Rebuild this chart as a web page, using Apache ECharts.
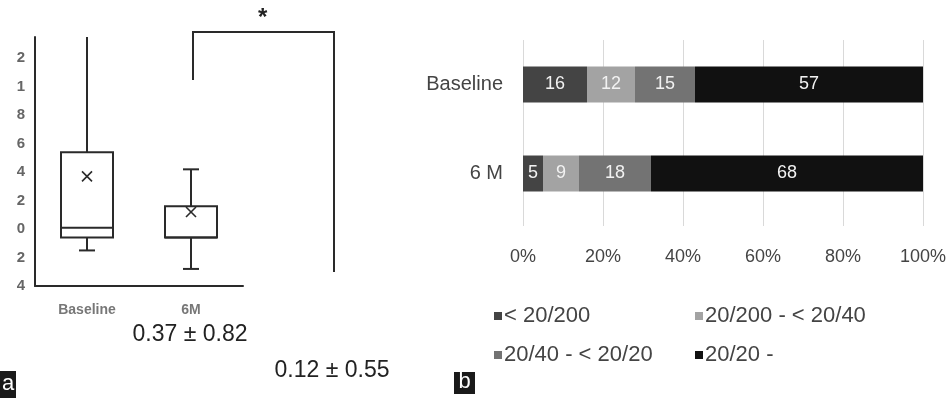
<!DOCTYPE html>
<html>
<head>
<meta charset="utf-8">
<script src="https://cdn.jsdelivr.net/npm/echarts@6/dist/echarts.min.js"></script>
<style>
  html, body { margin: 0; padding: 0; background: #fff; }
  #chart { width: 950px; height: 398px; }
</style>
</head>
<body>
<div id="chart"></div>
<script>
// ---- Panel a: box plot ----
const boxCategories = ['Baseline', '6M'];
const boxMin = [-0.15, -0.28];
const boxQ1 = [-0.06, -0.06];
const boxMedian = [0.01, -0.06];
const boxQ3 = [0.54, 0.16];
const boxMax = [1.5, 0.42];
const boxMean = [0.37, 0.12];
const boxSD = [0.82, 0.55];
const boxTickValues = [-0.4, -0.2, 0, 0.2, 0.4, 0.6, 0.8, 1, 1.2];
const boxTickLabels = ['4', '2', '0', '2', '4', '6', '8', '1', '2'];

// ---- Panel b: stacked percentage bars ----
const barCategories = ['Baseline', '6 M'];
const seriesNames = ['< 20/200', '20/200 - < 20/40', '20/40 - < 20/20', '20/20 -'];
const under200 = [16, 5];
const from200to40 = [12, 9];
const from40to20 = [15, 18];
const over20 = [57, 68];
const seriesColors = ['#444444', '#a3a3a3', '#737373', '#111111'];

const FONT = "'Liberation Sans', Arial, sans-serif";

const boxData = boxCategories.map((c, i) =>
  [i, boxMin[i], boxQ1[i], boxMedian[i], boxQ3[i], boxMax[i], boxMean[i]]);

function renderBox(params, api) {
  const i = api.value(0);
  const band = api.size([1, 0])[0];
  const hw = band * 0.25;
  const cap = 8;
  const m = 5;
  const pMin = api.coord([i, api.value(1)]);
  const pQ1 = api.coord([i, api.value(2)]);
  const pMed = api.coord([i, api.value(3)]);
  const pQ3 = api.coord([i, api.value(4)]);
  const pMax = api.coord([i, api.value(5)]);
  const pMean = api.coord([i, api.value(6)]);
  const x = pQ1[0];
  const st = { stroke: '#2a2a2a', lineWidth: 2, fill: null };
  const line = (x1, y1, x2, y2, s) => ({ type: 'line', shape: { x1, y1, x2, y2 }, style: s || st });
  return {
    type: 'group',
    children: [
      { type: 'rect', shape: { x: x - hw, y: pQ3[1], width: hw * 2, height: pQ1[1] - pQ3[1] }, style: st },
      line(x - hw, pMed[1], x + hw, pMed[1]),
      line(x, pQ3[1], x, pMax[1]),
      line(x, pQ1[1], x, pMin[1]),
      line(x - cap, pMax[1], x + cap, pMax[1]),
      line(x - cap, pMin[1], x + cap, pMin[1]),
      line(x - m, pMean[1] - m, x + m, pMean[1] + m, { stroke: '#2a2a2a', lineWidth: 1.6 }),
      line(x - m, pMean[1] + m, x + m, pMean[1] - m, { stroke: '#2a2a2a', lineWidth: 1.6 })
    ]
  };
}

const barSeriesData = [under200, from200to40, from40to20, over20];

const chart = echarts.init(document.getElementById('chart'), null, { renderer: 'canvas' });

chart.setOption({
  animation: false,
  backgroundColor: '#ffffff',
  grid: [
    { left: 35, top: 37, width: 208, height: 249 },
    { left: 523, top: 40, width: 400, height: 178 },
    { left: 523, top: 40, width: 400, height: 186 }
  ],
  xAxis: [
    {
      gridIndex: 0, type: 'category', data: boxCategories,
      axisLine: { onZero: false, lineStyle: { color: '#2a2a2a', width: 2 } },
      axisTick: { show: false },
      axisLabel: { color: '#777', fontWeight: 'bold', fontSize: 14, fontFamily: FONT, margin: 17 }
    },
    { gridIndex: 1, type: 'value', min: 0, max: 100, show: false },
    {
      gridIndex: 2, type: 'value', min: 0, max: 100, interval: 20,
      axisLine: { show: false }, axisTick: { show: false },
      splitLine: { lineStyle: { color: '#d9d9d9', width: 1 } },
      axisLabel: { formatter: '{value}%', color: '#444', fontSize: 18, fontFamily: FONT, margin: 22 }
    }
  ],
  yAxis: [
    {
      gridIndex: 0, type: 'value', min: -0.4, max: 1.35, interval: 0.2,
      axisLine: { show: true, lineStyle: { color: '#2a2a2a', width: 2 } },
      axisTick: { show: false }, splitLine: { show: false },
      axisLabel: {
        showMaxLabel: false, color: '#666', fontWeight: 'bold', fontSize: 15, fontFamily: FONT, margin: 10,
        formatter: v => {
          const k = boxTickValues.findIndex(t => Math.abs(t - v) < 1e-6);
          return k < 0 ? '' : boxTickLabels[k];
        }
      }
    },
    {
      gridIndex: 1, type: 'category', data: barCategories, inverse: true,
      axisLine: { show: false }, axisTick: { show: false },
      axisLabel: { color: '#444', fontSize: 20, fontFamily: FONT, margin: 20 }
    },
    { gridIndex: 2, type: 'value', show: false }
  ],
  legend: [
    {
      data: [seriesNames[0], seriesNames[2]], orient: 'vertical', left: 489, top: 300,
      icon: 'rect', itemWidth: 8, itemHeight: 8, itemGap: 17,
      textStyle: { color: '#444', fontSize: 22, fontFamily: FONT, padding: [0, 0, 0, -3] }
    },
    {
      data: [seriesNames[1], seriesNames[3]], orient: 'vertical', left: 690, top: 300,
      icon: 'rect', itemWidth: 8, itemHeight: 8, itemGap: 17,
      textStyle: { color: '#444', fontSize: 22, fontFamily: FONT, padding: [0, 0, 0, -3] }
    }
  ],
  series: [
    {
      type: 'custom', xAxisIndex: 0, yAxisIndex: 0, clip: true,
      renderItem: renderBox, data: boxData,
      encode: { x: 0, y: [1, 2, 3, 4, 5, 6] }, silent: true
    },
    ...seriesNames.map((name, k) => ({
      name, type: 'bar', stack: 'total', xAxisIndex: 1, yAxisIndex: 1,
      barWidth: 36, data: barSeriesData[k],
      itemStyle: { color: seriesColors[k] },
      label: { show: true, position: 'inside', color: '#f2f2f2', fontSize: 18, fontFamily: FONT }
    }))
  ],
  graphic: [
    // significance bracket between the two time points
    {
      type: 'polyline', silent: true,
      shape: { points: [[193, 80], [193, 32], [334, 32], [334, 272]] },
      style: { stroke: '#2a2a2a', lineWidth: 2, fill: null }
    },
    { type: 'text', left: 258, top: 6, style: { text: '*', fontSize: 24, fontWeight: 'bold', fill: '#222', fontFamily: FONT } },
    // mean ± SD captions
    {
      type: 'text', x: 190, y: 335,
      style: { text: boxMean[0].toFixed(2) + ' ± ' + boxSD[0].toFixed(2), fontSize: 23, fill: '#222',
               fontFamily: FONT, align: 'center', verticalAlign: 'middle' }
    },
    {
      type: 'text', x: 332, y: 371,
      style: { text: boxMean[1].toFixed(2) + ' ± ' + boxSD[1].toFixed(2), fontSize: 23, fill: '#222',
               fontFamily: FONT, align: 'center', verticalAlign: 'middle' }
    },
    // panel letters
    { type: 'rect', shape: { x: 0, y: 371, width: 16, height: 27 }, style: { fill: '#1a1a1a' } },
    { type: 'text', x: 8, y: 384, style: { text: 'a', fontSize: 22, fill: '#fff', fontFamily: FONT, align: 'center', verticalAlign: 'middle' } },
    { type: 'rect', shape: { x: 454, y: 372, width: 21, height: 22 }, style: { fill: '#1a1a1a' } },
    { type: 'text', x: 464.5, y: 382, style: { text: 'b', fontSize: 22, fill: '#fff', fontFamily: FONT, align: 'center', verticalAlign: 'middle' } }
  ]
});
</script>
</body>
</html>
